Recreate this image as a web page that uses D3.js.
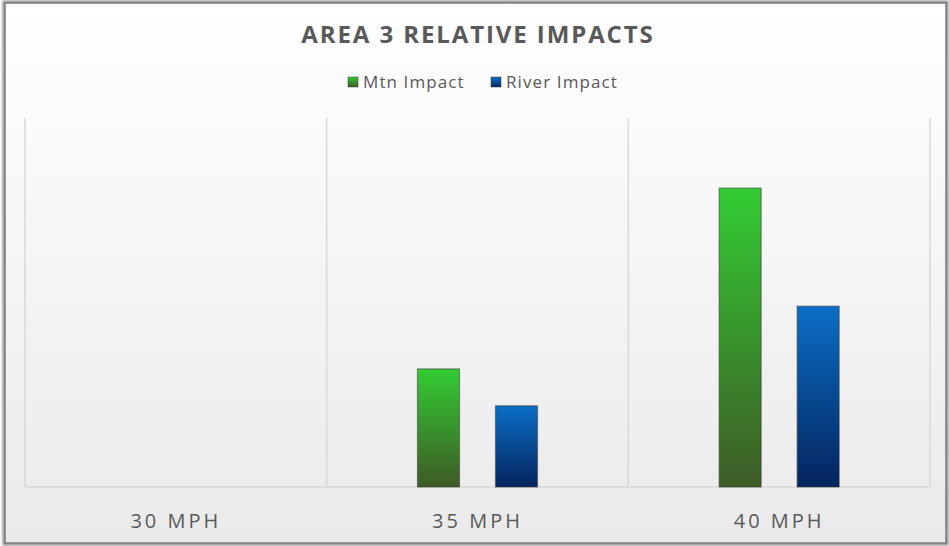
<!DOCTYPE html>
<html>
<head>
<meta charset="utf-8">
<script src="https://cdn.jsdelivr.net/npm/d3@7"></script>
<style>
  html, body { margin: 0; padding: 0; background: #ffffff; }
  svg { display: block; }
  text { font-family: "Open Sans", "Noto Sans", sans-serif; }
</style>
</head>
<body>
<svg id="chart" width="949" height="546"></svg>
<script>
// Chart data
const categories = ["30 MPH", "35 MPH", "40 MPH"];
const seriesNames = ["Mtn Impact", "River Impact"];
const mtnImpact = [0, 3.2, 8.1];
const riverImpact = [0, 2.2, 4.9];
const titleText = "AREA 3 RELATIVE IMPACTS";

const W = 949, H = 546;
const svg = d3.select("#chart");
const defs = svg.append("defs");

// Background panel gradient
const bg = defs.append("linearGradient").attr("id", "bgGrad")
  .attr("x1", 0).attr("y1", 0).attr("x2", 0).attr("y2", 1);
bg.append("stop").attr("offset", "0%").attr("stop-color", "#ffffff");
bg.append("stop").attr("offset", "100%").attr("stop-color", "#eaeaea");

// Bar gradients
const gGreen = defs.append("linearGradient").attr("id", "gradMtn")
  .attr("x1", 0).attr("y1", 0).attr("x2", 0).attr("y2", 1);
gGreen.append("stop").attr("offset", "0%").attr("stop-color", "#33cc33");
gGreen.append("stop").attr("offset", "100%").attr("stop-color", "#3e5a26");
const gBlue = defs.append("linearGradient").attr("id", "gradRiver")
  .attr("x1", 0).attr("y1", 0).attr("x2", 0).attr("y2", 1);
gBlue.append("stop").attr("offset", "0%").attr("stop-color", "#0b6ec6");
gBlue.append("stop").attr("offset", "100%").attr("stop-color", "#04245e");

const shadow = defs.append("filter").attr("id", "frameShadow")
  .attr("x", "-5%").attr("y", "-5%").attr("width", "110%").attr("height", "110%");
shadow.append("feGaussianBlur").attr("stdDeviation", 0.8);

// Panel with frame
svg.append("rect").attr("x", 4).attr("y", 2).attr("width", 943).attr("height", 542)
  .attr("fill", "none").attr("stroke", "#8a8a8a").attr("stroke-width", 3)
  .attr("filter", "url(#frameShadow)");
svg.append("rect").attr("x", 5).attr("y", 3).attr("width", 941).attr("height", 540)
  .attr("fill", "url(#bgGrad)").attr("stroke", "#7a7a7a").attr("stroke-width", 1.5);

// Plot geometry
const plot = { left: 25, right: 930, top: 118, bottom: 487 };

const x = d3.scaleBand().domain(categories)
  .range([plot.left, plot.right]).paddingInner(0).paddingOuter(0);
const xs = d3.scaleBand().domain(seriesNames)
  .range([0, x.bandwidth()]).paddingInner(0.4615).paddingOuter(1.1645);
const y = d3.scaleLinear().domain([0, 10]).range([plot.bottom, plot.top]);

// Category separators (vertical gridlines)
const gridPos = categories.map(c => x(c)).concat([x(categories[categories.length - 1]) + x.bandwidth()]);
svg.append("g").selectAll("line").data(gridPos).join("line")
  .attr("x1", d => d).attr("x2", d => d)
  .attr("y1", plot.top).attr("y2", plot.bottom)
  .attr("stroke", "#d9d9d9").attr("stroke-width", 1.5);

// Baseline
svg.append("line").attr("x1", plot.left).attr("x2", plot.right)
  .attr("y1", plot.bottom).attr("y2", plot.bottom)
  .attr("stroke", "#d9d9d9").attr("stroke-width", 1.5);

// Bars
const rows = categories.map((c, i) => ({ cat: c, values: [
  { name: seriesNames[0], v: mtnImpact[i], fill: "url(#gradMtn)" },
  { name: seriesNames[1], v: riverImpact[i], fill: "url(#gradRiver)" }
]}));
const groups = svg.append("g").selectAll("g").data(rows).join("g")
  .attr("transform", d => `translate(${x(d.cat)},0)`);
groups.selectAll("rect").data(d => d.values.filter(v => v.v > 0)).join("rect")
  .attr("x", d => xs(d.name))
  .attr("width", xs.bandwidth())
  .attr("y", d => y(d.v))
  .attr("height", d => y(0) - y(d.v))
  .attr("fill", d => d.fill)
  .attr("stroke", "#3a3a3a").attr("stroke-opacity", 0.55).attr("stroke-width", 1.2);

// Category axis labels
const xAxis = d3.axisBottom(x).tickSize(0).tickPadding(0);
const ax = svg.append("g").attr("transform", `translate(0,${plot.bottom})`).call(xAxis);
ax.select(".domain").remove();
ax.selectAll("text")
  .attr("y", 41).attr("dy", 0)
  .attr("font-size", 20).attr("fill", "#595959")
  .attr("letter-spacing", 3)
  .style("font-family", "'Open Sans', sans-serif");

// Title
svg.append("text").attr("x", 478).attr("y", 43)
  .attr("text-anchor", "middle").attr("font-size", 24).attr("font-weight", 700)
  .attr("letter-spacing", 1.9).attr("fill", "#595959").text(titleText);

// Legend
const legendItems = [
  { name: seriesNames[0], fill: "url(#gradMtn)", x: 348 },
  { name: seriesNames[1], fill: "url(#gradRiver)", x: 491 }
];
const lg = svg.append("g").selectAll("g").data(legendItems).join("g")
  .attr("transform", d => `translate(${d.x},77)`);
lg.append("rect").attr("width", 10).attr("height", 10)
  .attr("fill", d => d.fill).attr("stroke", "#3a3a3a").attr("stroke-opacity", 0.5);
lg.append("text").attr("x", 15).attr("y", 11)
  .attr("font-size", 17).attr("letter-spacing", 1.1)
  .attr("fill", "#595959").text(d => d.name);
</script>
</body>
</html>
